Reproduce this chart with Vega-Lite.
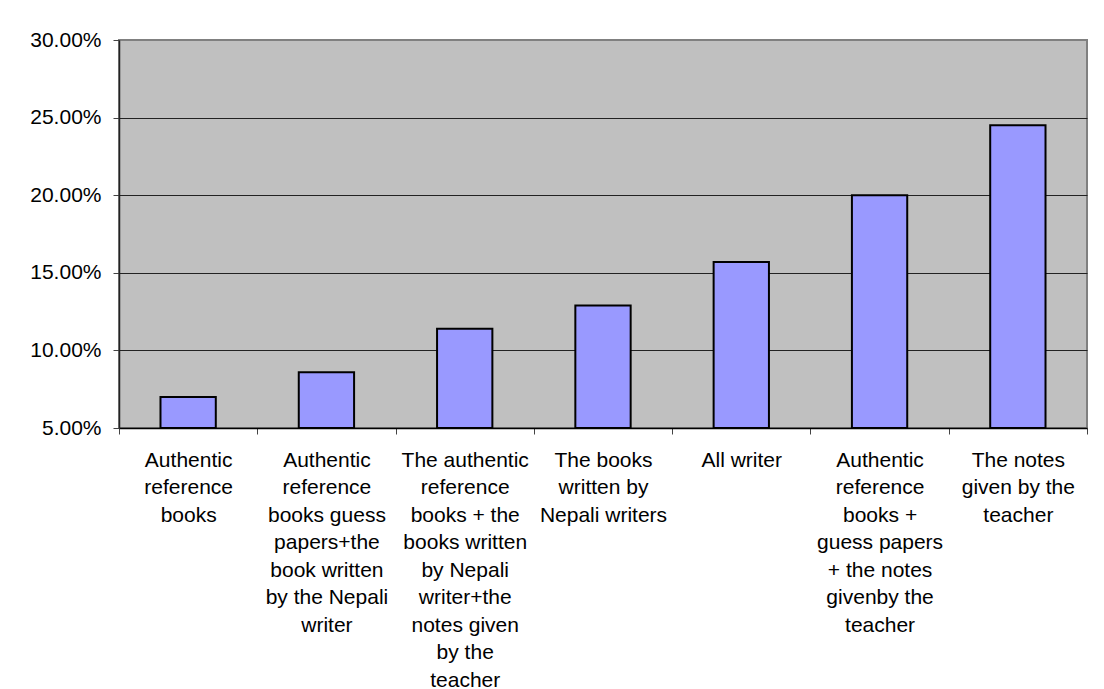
{
  "$schema": "https://vega.github.io/schema/vega-lite/v6.json",
  "autosize": {"type": "none"},
  "width": 968,
  "height": 388,
  "padding": {"left": 119, "top": 40, "right": 17, "bottom": 261},
  "background": "white",
  "data": {
    "values": [
      {"source": "Authentic\nreference\nbooks", "share": 0.070},
      {"source": "Authentic\nreference\nbooks guess\npapers+the\nbook written\nby the Nepali\nwriter", "share": 0.086},
      {"source": "The authentic\nreference\nbooks + the\nbooks written\nby Nepali\nwriter+the\nnotes given\nby the\nteacher", "share": 0.114},
      {"source": "The books\nwritten by\nNepali writers", "share": 0.129},
      {"source": "All writer", "share": 0.157},
      {"source": "Authentic\nreference\nbooks +\nguess papers\n+ the notes\ngivenby the\nteacher", "share": 0.200},
      {"source": "The notes\ngiven by the\nteacher", "share": 0.245}
    ]
  },
  "mark": {
    "type": "bar",
    "width": {"band": 0.4},
    "fill": "#9999FF",
    "stroke": "black",
    "strokeWidth": 2
  },
  "encoding": {
    "x": {
      "field": "source",
      "type": "nominal",
      "sort": null,
      "scale": {"paddingInner": 0, "paddingOuter": 0},
      "axis": {
        "title": null,
        "labelAngle": 0,
        "labelExpr": "datum.value ? split(datum.value, '\\n') : ''",
        "labelLineHeight": 27.5,
        "labelFont": "Liberation Sans",
        "labelFontSize": 21,
        "labelColor": "black",
        "labelPadding": 15,
        "labelBaseline": "top",
        "labelLimit": 0,
        "tickBand": "extent",
        "tickSize": 6,
        "tickColor": "#444",
        "domainColor": "black",
        "domainWidth": 1.5
      }
    },
    "y": {
      "field": "share",
      "type": "quantitative",
      "scale": {"domain": [0.05, 0.30], "zero": false, "nice": false},
      "axis": {
        "title": null,
        "values": [0.05, 0.10, 0.15, 0.20, 0.25, 0.30],
        "format": ".2%",
        "labelFont": "Liberation Sans",
        "labelFontSize": 21,
        "labelColor": "black",
        "labelPadding": 12,
        "tickSize": 6,
        "tickColor": "#444",
        "domainColor": "#222",
        "domainWidth": 1.5,
        "grid": true,
        "gridColor": "#222",
        "gridWidth": 1,
        "gridOpacity": {"condition": {"test": "datum.value >= 0.3 || datum.value <= 0.05", "value": 0}, "value": 1}
      }
    },
    "y2": {"datum": 0.05}
  },
  "config": {
    "view": {"fill": "#C0C0C0", "stroke": "#808080", "strokeWidth": 2}
  }
}
